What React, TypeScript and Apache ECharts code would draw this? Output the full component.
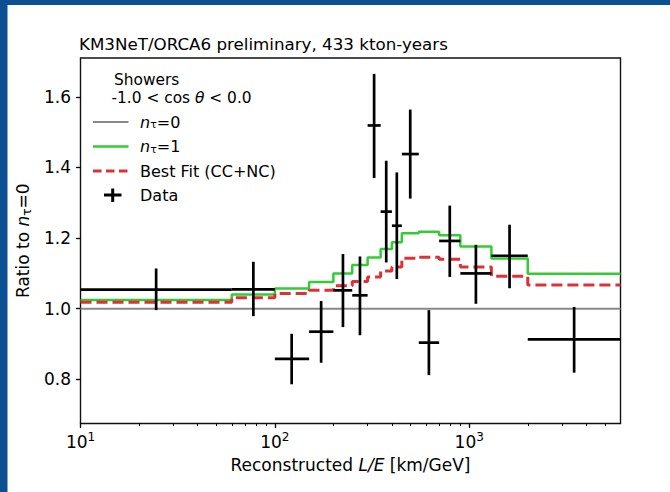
import React, { useEffect, useRef } from "react";
import * as echarts from "echarts";

const FONT = "'DejaVu Sans', 'Liberation Sans', sans-serif";

// Bin edges in reconstructed L/E [km/GeV]
const binEdges = [10, 60, 100, 150, 200, 250, 300, 350, 400, 450, 550, 700, 900, 1300, 2000, 6000];
// Ratio to n_tau = 0 per bin
const nTau1 = [1.025, 1.04, 1.057, 1.076, 1.1, 1.124, 1.145, 1.169, 1.188, 1.214, 1.218, 1.208, 1.176, 1.142, 1.099];
const bestFit = [1.018, 1.031, 1.043, 1.052, 1.065, 1.077, 1.09, 1.107, 1.118, 1.143, 1.146, 1.14, 1.118, 1.092, 1.067];
const nTau0Level = 1.0;

// Data points
const dataX = [24.5, 77.5, 122, 173, 224, 274, 324, 374, 424, 497, 620, 794, 1082, 1612, 3464];
const dataY = [1.054, 1.055, 0.858, 0.935, 1.052, 1.038, 1.519, 1.275, 1.235, 1.438, 0.904, 1.192, 1.1, 1.15, 0.913];
const dataLo = [0.996, 0.979, 0.786, 0.847, 0.948, 0.925, 1.37, 1.131, 1.084, 1.312, 0.812, 1.09, 1.014, 1.058, 0.819];
const dataHi = [1.114, 1.133, 0.929, 1.022, 1.155, 1.148, 1.665, 1.419, 1.386, 1.564, 0.996, 1.292, 1.181, 1.238, 1.005];

// Axis ticks
const xMajorTicks = [10, 100, 1000];
const xMinorTicks = [20, 30, 40, 50, 60, 70, 80, 90, 200, 300, 400, 500, 600, 700, 800, 900, 2000, 3000, 4000, 5000];
const yTicks = [0.8, 1.0, 1.2, 1.4, 1.6];

const TITLE = "KM3NeT/ORCA6 preliminary, 433 kton-years";

const GREEN = "#33cc33";
const RED = "#df3036";
const GREY = "#888888";

function stepData(vals: number[]) {
  return binEdges.map((e, i) => [e, vals[Math.min(i, vals.length - 1)]]);
}

const richBase = (size: number) => ({
  i: { fontStyle: "italic", fontSize: size, fontFamily: FONT, color: "#000", lineHeight: 20 },
  s: { fontSize: Math.round(size * 0.7), fontFamily: FONT, color: "#000", lineHeight: 13, verticalAlign: "bottom" },
  t: { fontSize: size, fontFamily: FONT, color: "#000", lineHeight: 20 },
});

const legendRich = {
  i: { fontSize: 16, fontFamily: FONT, fill: "#000", fontStyle: "italic", lineHeight: 16 },
  s: { fontSize: 11, fontFamily: FONT, fill: "#000", lineHeight: 11, verticalAlign: "bottom" },
  t: { fontSize: 16, fontFamily: FONT, fill: "#000", lineHeight: 16 },
};

const headerRich = {
  p: { fontSize: 15.4, fontFamily: FONT, fill: "#000", lineHeight: 18.2, padding: [0, 0, 0, 2.5] },
  t: { fontSize: 15.4, fontFamily: FONT, fill: "#000", lineHeight: 18.2 },
  i: { fontSize: 15.4, fontFamily: FONT, fill: "#000", lineHeight: 18.2, fontStyle: "italic" },
};

export default function App() {
  const ref = useRef<HTMLDivElement>(null);
  useEffect(() => {
    if (!ref.current) return;
    const chart = echarts.init(ref.current, null, { renderer: "svg" });
    const option: any = {
      animation: false,
      backgroundColor: "#ffffff",
      title: {
        text: TITLE,
        left: 79,
        top: 35,
        padding: 0,
        textStyle: { fontSize: 16.7, fontWeight: "normal", fontFamily: FONT, color: "#000" },
      },
      grid: {
        left: 80.5,
        right: 49.5,
        top: 58,
        bottom: 68.5,
        show: true,
        backgroundColor: "#ffffff",
        borderColor: "#111",
        borderWidth: 1.4,
      },
      xAxis: [
        {
          type: "log",
          logBase: 10,
          min: binEdges[0],
          max: binEdges[binEdges.length - 1],
          name: "{t|Reconstructed }{i|L/E}{t| [km/GeV]}",
          nameLocation: "middle",
          nameGap: 31,
          nameTextStyle: { fontSize: 17, fontFamily: FONT, color: "#000", rich: richBase(17) },
          axisLine: { show: false },
          splitLine: { show: false },
          axisTick: { show: true, customValues: xMajorTicks, length: 4.5, lineStyle: { color: "#000", width: 1.3 } },
          axisLabel: {
            customValues: xMajorTicks,
            margin: 7,
            formatter: (v: number) => `{b|10}{sup|${Math.round(Math.log10(v))}}`,
            rich: {
              b: { fontSize: 17, fontFamily: FONT, color: "#000", lineHeight: 22 },
              sup: { fontSize: 12, fontFamily: FONT, color: "#000", lineHeight: 13, verticalAlign: "top" },
            },
          },
        },
        {
          type: "log",
          logBase: 10,
          min: binEdges[0],
          max: binEdges[binEdges.length - 1],
          position: "bottom",
          axisLine: { show: false },
          splitLine: { show: false },
          axisLabel: { show: false },
          axisTick: { show: true, customValues: xMinorTicks, length: 2.5, lineStyle: { color: "#000", width: 1 } },
        },
      ],
      yAxis: {
        type: "value",
        min: 0.675,
        max: 1.71,
        name: "{t|Ratio to }{i|n}{s|τ}{t|=0}",
        nameLocation: "middle",
        nameRotate: 90,
        nameGap: 45,
        nameTextStyle: { fontSize: 17, fontFamily: FONT, color: "#000", rich: richBase(17) },
        axisLine: { show: false },
        splitLine: { show: false },
        axisTick: { show: true, customValues: yTicks, length: 4.5, lineStyle: { color: "#000", width: 1.3 } },
        axisLabel: {
          customValues: yTicks,
          margin: 9.5,
          fontSize: 17,
          fontFamily: FONT,
          color: "#000",
          formatter: (v: number) => v.toFixed(1),
        },
      },
      series: [
        {
          type: "line",
          name: "n_tau=0",
          data: [
            [binEdges[0], nTau0Level],
            [binEdges[binEdges.length - 1], nTau0Level],
          ],
          showSymbol: false,
          lineStyle: { color: GREY, width: 2 },
          z: 2,
        },
        {
          type: "line",
          name: "n_tau=1",
          step: "end",
          data: stepData(nTau1),
          showSymbol: false,
          lineStyle: { color: GREEN, width: 2.5 },
          z: 3,
        },
        {
          type: "line",
          name: "Best Fit (CC+NC)",
          step: "end",
          data: stepData(bestFit),
          showSymbol: false,
          lineStyle: { color: RED, width: 3, type: [11, 5] },
          z: 3,
        },
        {
          type: "custom",
          name: "Data",
          z: 5,
          clip: false,
          encode: { x: 0, y: 1 },
          data: dataX.map((x, i) => [x, dataY[i], dataLo[i], dataHi[i], binEdges[i], binEdges[i + 1]]),
          renderItem: (params: any, api: any) => {
            const c = api.coord([api.value(0), api.value(1)]);
            const lo = api.coord([api.value(0), api.value(2)]);
            const hi = api.coord([api.value(0), api.value(3)]);
            const l = api.coord([api.value(4), api.value(1)]);
            const r = api.coord([api.value(5), api.value(1)]);
            const st = { stroke: "#000", lineWidth: 2.7 };
            return {
              type: "group",
              children: [
                { type: "line", shape: { x1: l[0], y1: c[1], x2: r[0], y2: c[1] }, style: st },
                { type: "line", shape: { x1: c[0], y1: hi[1], x2: c[0], y2: lo[1] }, style: st },
              ],
            };
          },
        },
      ],
      graphic: [
        { type: "rect", left: 0, top: 0, shape: { width: 7.5, height: 492 }, style: { fill: "#0d4f93" }, z: 100 },
        { type: "rect", left: 0, top: 0, shape: { width: 670, height: 5 }, style: { fill: "#0d4f93" }, z: 100 },
        {
          type: "group",
          z: 50,
          children: [
            {
              type: "text",
              x: 111.5,
              y: 88.6,
              style: {
                text: "{p|Showers}\n{t|-1.0 < cos }{i|θ}{t| < 0.0}",
                fontSize: 15.4,
                lineHeight: 18.2,
                fontFamily: FONT,
                fill: "#000",
                verticalAlign: "middle",
                rich: headerRich,
              },
            },
            { type: "line", shape: { x1: 93, y1: 122, x2: 128.5, y2: 122 }, style: { stroke: GREY, lineWidth: 2 } },
            {
              type: "text",
              x: 140,
              y: 122,
              style: { text: "{i|n}{s|τ}{t|=0}", verticalAlign: "middle", rich: legendRich },
            },
            { type: "line", shape: { x1: 93, y1: 146.5, x2: 128.5, y2: 146.5 }, style: { stroke: GREEN, lineWidth: 2.5 } },
            {
              type: "text",
              x: 140,
              y: 146.5,
              style: { text: "{i|n}{s|τ}{t|=1}", verticalAlign: "middle", rich: legendRich },
            },
            { type: "line", shape: { x1: 93, y1: 171, x2: 128.5, y2: 171 }, style: { stroke: RED, lineWidth: 3, lineDash: [8.5, 4.5] } },
            {
              type: "text",
              x: 140,
              y: 171,
              style: { text: "Best Fit (CC+NC)", fontSize: 16, lineHeight: 16, fontFamily: FONT, fill: "#000", verticalAlign: "middle" },
            },
            { type: "line", shape: { x1: 104, y1: 195, x2: 121.5, y2: 195 }, style: { stroke: "#000", lineWidth: 3 } },
            { type: "line", shape: { x1: 112.7, y1: 188.5, x2: 112.7, y2: 202 }, style: { stroke: "#000", lineWidth: 3 } },
            {
              type: "text",
              x: 140,
              y: 195,
              style: { text: "Data", fontSize: 16, lineHeight: 16, fontFamily: FONT, fill: "#000", verticalAlign: "middle" },
            },
          ],
        },
      ],
    };
    chart.setOption(option);
    return () => chart.dispose();
  }, []);
  return (
    <div
      ref={ref}
      style={{ position: "absolute", left: 0, top: 0, width: 670, height: 492, background: "#fff" }}
    />
  );
}
